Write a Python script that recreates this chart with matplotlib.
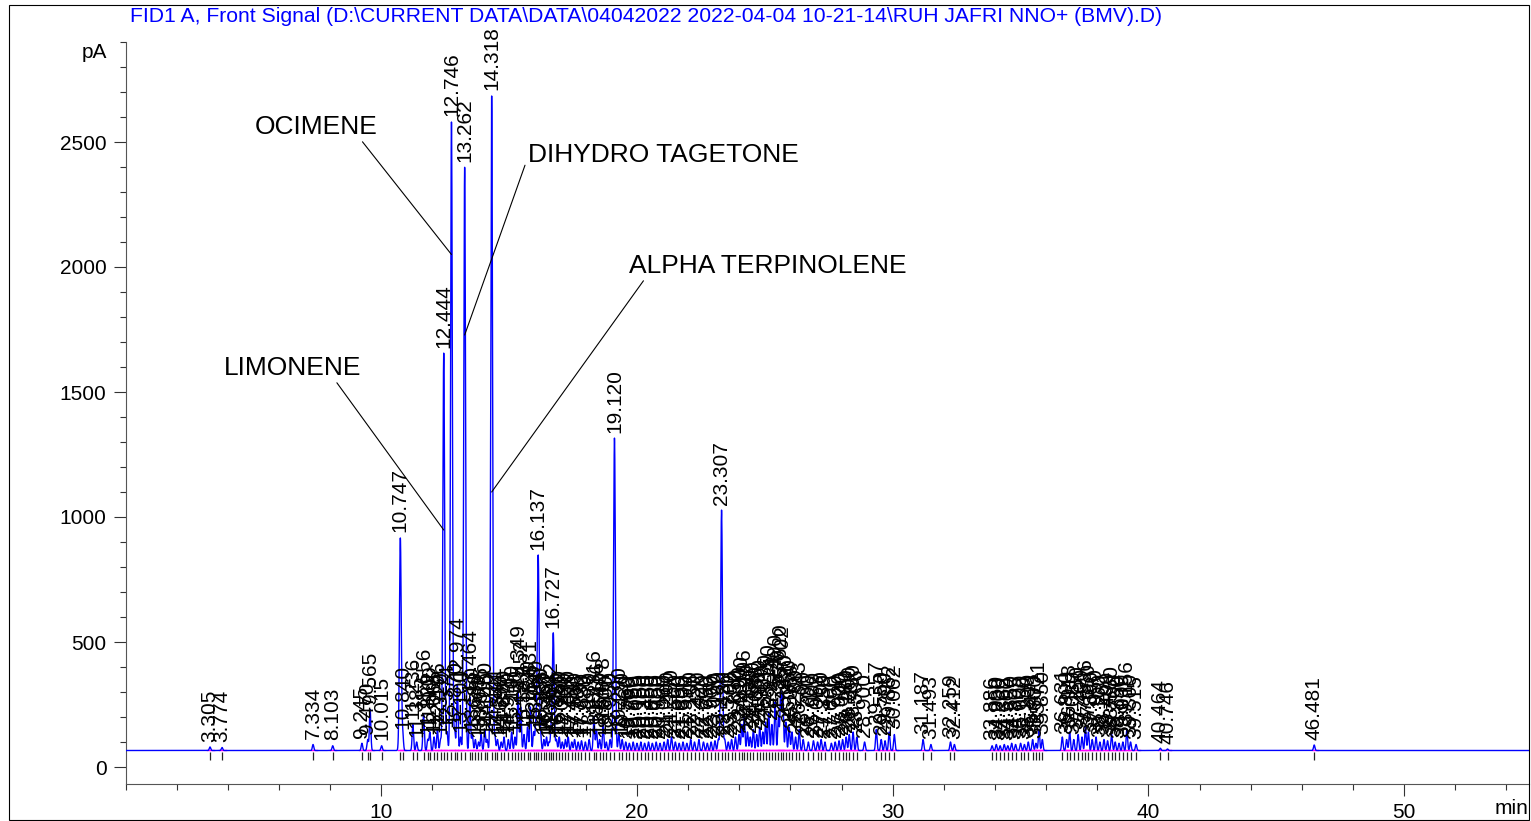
import numpy as np
import matplotlib
matplotlib.use("Agg")
import matplotlib.pyplot as plt
from matplotlib.patches import Rectangle

title = "FID1 A, Front Signal (D:\\CURRENT DATA\\DATA\\04042022 2022-04-04 10-21-14\\RUH JAFRI NNO+ (BMV).D)"

# retention time (min) and apex signal (pA) of every integrated peak
peak_times = [
    3.305, 3.774, 7.334, 8.103, 9.245, 9.470, 9.565, 10.015,
    10.747, 10.840, 11.236, 11.385, 11.656, 11.820, 11.900, 12.065, 12.196, 12.320,
    12.444, 12.574, 12.746, 12.870, 12.974, 13.100, 13.262, 13.464, 13.560, 13.680,
    13.803, 13.905, 14.050, 14.140, 14.318, 14.441, 14.544, 14.690, 14.800, 14.970,
    15.100, 15.230, 15.349, 15.452, 15.581, 15.720, 15.831, 15.960, 16.040, 16.137,
    16.230, 16.360, 16.462, 16.560, 16.642, 16.727, 16.850, 16.960, 17.080, 17.200,
    17.310, 17.450, 17.560, 17.700, 17.830, 17.980, 18.130, 18.316, 18.416, 18.540,
    18.678, 18.800, 18.950, 19.120, 19.290, 19.420, 19.560, 19.700, 19.850, 20.000,
    20.150, 20.300, 20.450, 20.600, 20.750, 20.900, 21.060, 21.200, 21.350, 21.500,
    21.650, 21.800, 21.950, 22.100, 22.250, 22.420, 22.600, 22.750, 22.900, 23.050,
    23.180, 23.307, 23.430, 23.570, 23.700, 23.850, 23.990, 24.100, 24.196, 24.320,
    24.430, 24.550, 24.680, 24.800, 24.920, 25.030, 25.150, 25.274, 25.400, 25.530,
    25.620, 25.702, 25.820, 25.950, 26.060, 26.200, 26.343, 26.500, 26.700, 26.900,
    27.063, 27.200, 27.350, 27.600, 27.750, 27.900, 28.040, 28.180, 28.300, 28.450,
    28.596, 28.900, 29.357, 29.550, 29.700, 29.862, 30.062, 31.187, 31.493, 32.259,
    32.412, 33.886, 34.050, 34.200, 34.362, 34.500, 34.650, 34.805, 35.000, 35.150,
    35.300, 35.471, 35.600, 35.721, 35.850, 36.631, 36.800, 36.918, 37.080, 37.250,
    37.400, 37.536, 37.650, 37.800, 37.950, 38.100, 38.261, 38.400, 38.560, 38.700,
    38.850, 39.000, 39.156, 39.300, 39.515, 40.464, 40.746, 46.481,
]
peak_heights = [
    80, 78, 90, 85, 95, 110, 230, 85,
    916, 130, 170, 100, 210, 110, 140, 120, 150, 110,
    1656, 140, 2580, 150, 330, 120, 2400, 280, 130, 110,
    100, 130, 150, 110, 2684, 130, 110, 100, 120, 110,
    140, 120, 300, 240, 130, 160, 240, 140, 160, 848,
    130, 110, 120, 100, 150, 536, 110, 120, 100, 110,
    120, 100, 110, 100, 105, 100, 110, 200, 150, 110,
    170, 100, 110, 1316, 130, 110, 100, 95, 100, 95,
    100, 95, 100, 95, 100, 95, 100, 110, 120, 100,
    95, 100, 95, 110, 100, 110, 100, 95, 100, 105,
    110, 1028, 110, 100, 110, 120, 130, 170, 200, 140,
    120, 150, 130, 160, 140, 180, 220, 170, 260, 200,
    300, 290, 180, 160, 140, 120, 150, 110, 100, 105,
    100, 110, 100, 95, 100, 105, 110, 120, 130, 140,
    120, 100, 150, 110, 105, 140, 130, 110, 90, 100,
    90, 85, 90, 85, 90, 85, 95, 90, 95, 90,
    100, 110, 95, 150, 110, 120, 110, 140, 110, 130,
    120, 160, 140, 110, 120, 100, 110, 105, 130, 100,
    95, 100, 150, 100, 90, 75, 72, 88,
]
baseline = 66

compounds = ["LIMONENE", "OCIMENE", "DIHYDRO TAGETONE", "ALPHA TERPINOLENE"]
compound_times = [12.444, 12.746, 13.262, 14.318]

x_ticks = [10, 20, 30, 40, 50]
y_ticks = [0, 500, 1000, 1500, 2000, 2500]

plt.rcParams['font.family'] = ['Liberation Sans', 'DejaVu Sans']

W, H = 1531, 821
fig = plt.figure(figsize=(W / 100, H / 100), dpi=100)
ax = fig.add_axes([125.5 / W, (H - 784) / H, (1529 - 125.5) / W, (784 - 42) / H])

# build the trace from the peak table
t = np.linspace(0, 55, 22000)
signal = np.full_like(t, baseline, dtype=float)
for rt, h in zip(peak_times, peak_heights):
    sig = 0.035 if h > 400 else 0.028
    signal += (h - baseline) * np.exp(-0.5 * ((t - rt) / sig) ** 2)

for rt in peak_times:
    ax.plot([rt - 0.1, rt + 0.14], [baseline + 2, baseline + 2], color='#ff00ff', lw=1.0, zorder=2)
ax.plot(t, signal, color='blue', lw=1.0, zorder=3)
ax.vlines(peak_times, baseline - 38, baseline - 4, color='#222222', lw=0.9, zorder=2)

for rt, h in zip(peak_times, peak_heights):
    ax.text(rt, h + 22, f"{rt:.3f}", rotation=90, ha='center', va='bottom',
            fontsize=15, color='black', zorder=4)

# compound names with leader lines: (line hit y, text x, text y, ha, relpos)
spots = [
    (948, 6.52, 1596, 'center', (0.81, 0.0)),
    (2050, 7.45, 2560, 'center', (0.86, 0.0)),
    (1728, 15.73, 2448, 'left', (0.0, 0.4)),
    (1100, 19.68, 2004, 'left', (0.06, 0.0)),
]
for name, rt, (yh, tx, ty, ha, rp) in zip(compounds, compound_times, spots):
    ax.annotate(name, xy=(rt, yh), xytext=(tx, ty), ha=ha, va='center', fontsize=19,
                arrowprops=dict(arrowstyle='-', color='black', lw=0.8,
                                shrinkA=0, shrinkB=0, relpos=rp))

ax.set_xlim(0, 54.88)
ax.set_ylim(-68, 2900)
ax.spines['top'].set_visible(False)
ax.spines['right'].set_visible(False)
for side in ['left', 'bottom']:
    ax.spines[side].set_color('#555555')
ax.set_xticks(x_ticks)
ax.set_xticklabels([str(v) for v in x_ticks])
ax.set_xticks(np.arange(0, 55, 2), minor=True)
ax.set_yticks(y_ticks)
ax.set_yticklabels([str(v) for v in y_ticks])
ax.set_yticks(np.arange(0, 2901, 100), minor=True)
ax.tick_params(which='major', length=8.6, width=0.8, color='#333333', labelsize=15, pad=5)
ax.tick_params(which='minor', length=4.3, width=0.8, color='#333333')

fig.text(130 / W, 1 - 17 / H, title, color='blue', fontsize=15.2, ha='left', va='center')
fig.text(107 / W, 1 - 52 / H, "pA", fontsize=15, ha='right', va='center')
fig.text(1528 / W, 1 - 808 / H, "min", fontsize=15, ha='right', va='center')
fig.patches.append(Rectangle((9 / W, 1 / H), 1520 / W, 815 / H, transform=fig.transFigure,
                             fill=False, edgecolor='black', lw=0.8))

fig.savefig("out.png", dpi=100)
